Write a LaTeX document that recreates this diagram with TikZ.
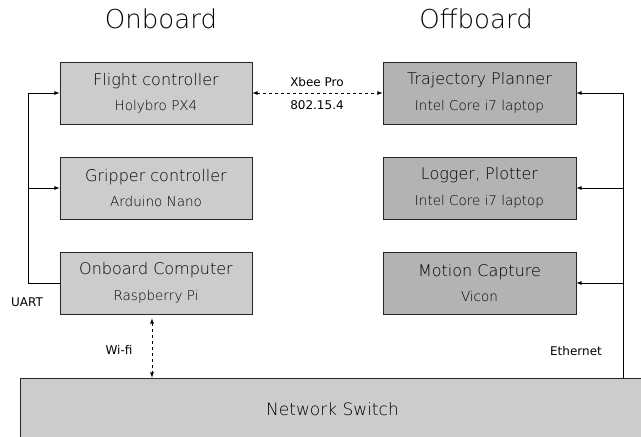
\documentclass[tikz,border=0pt]{standalone}
\usepackage{fontspec}
\setmainfont{DejaVu Sans}
\newfontfamily\thinfont{DejaVu Sans ExtraLight}
\usetikzlibrary{positioning}

\definecolor{onfill}{HTML}{CCCCCC}
\definecolor{offfill}{HTML}{B3B3B3}

\tikzset{
  unit/.style={draw=black!85,line width=0.8pt,minimum width=192pt,minimum height=62pt,
    align=center,font=\thinfont\fontsize{16}{25.5}\selectfont},
  onunit/.style={unit,fill=onfill},
  offunit/.style={unit,fill=offfill},
  heading/.style={font=\thinfont\fontsize{26}{30}\selectfont},
  linklabel/.style={font=\fontsize{12}{14}\selectfont,inner sep=0pt},
}
\newcommand{\subline}[1]{{\fontsize{13.5}{25.5}\selectfont #1}}

\begin{document}
\begin{tikzpicture}[x=1pt,y=-1pt,>=latex,line width=0.8pt]

\useasboundingbox (0,0) rectangle (641,437);

\node [heading] (onhead) at (161,19) {Onboard};
\node [heading] (offhead) at (476,19) {Offboard};

\node [onunit] (fc) at (156,93) {Flight controller\\\subline{Holybro PX4}};
\node [onunit] (gc) at (156,188) {Gripper controller\\\subline{Arduino Nano}};
\node [onunit] (oc) at (156,283) {Onboard Computer\\\subline{Raspberry Pi}};

\node [offunit,minimum width=193pt] (tp) at (479.5,93) {Trajectory Planner\\\subline{Intel Core i7 laptop}};
\node [offunit,minimum width=193pt] (lp) at (479.5,188) {Logger, Plotter\\\subline{Intel Core i7 laptop}};
\node [offunit,minimum width=193pt] (mc) at (479.5,283) {Motion Capture\\\subline{Vicon}};

\node [draw=black!85,fill=onfill,minimum width=625pt,minimum height=63pt,
  font=\thinfont\fontsize{17}{20}\selectfont] (ns) at (332.5,409.5) {Network Switch};

\coordinate (uart) at (28,0);
\coordinate (eth) at (623,0);
\coordinate (wifi) at (152,0);

\node [linklabel] (xbee) at (317,82) {Xbee Pro};
\node [linklabel] (ieee) at (317,105) {802.15.4};
\node [linklabel] (uartlbl) at (27,302) {UART};
\node [linklabel] (wifilbl) at (119,350) {Wi-fi};
\node [linklabel] (ethlbl) at (576,351) {Ethernet};

% serial links on board
\path [draw,->]
    (oc.west) -| (uart |- fc.west) -- (fc.west)
;
\path [draw,->]
    (uart |- gc.west) -- (gc.west)
;

% radio links
\path [draw,<->,dashed]
    (fc.east) -- (tp.west)
;
\path [draw,<->,dashed]
    ([yshift=-4pt]wifi |- oc.south) -- (wifi |- ns.north)
;

% wired network
\path [draw,->]
    (eth |- ns.north) |- (tp.east)
;
\path [draw,->]
    (eth |- lp.east) -- (lp.east)
;
\path [draw,->]
    (eth |- mc.east) -- (mc.east)
;

\end{tikzpicture}
\end{document}
